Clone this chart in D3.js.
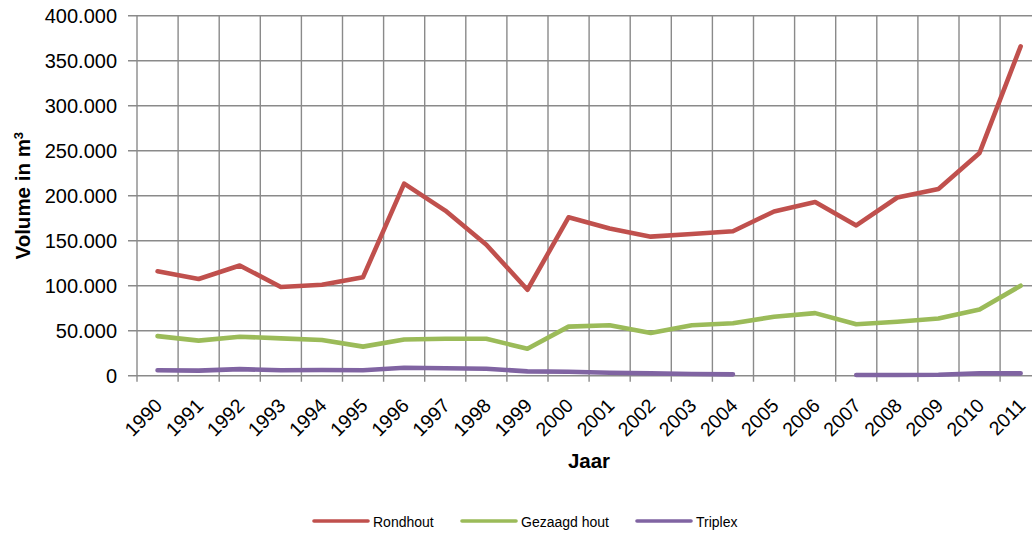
<!DOCTYPE html>
<html>
<head>
<meta charset="utf-8">
<script src="https://cdn.jsdelivr.net/npm/d3@7"></script>
<style>
  html, body { margin: 0; padding: 0; background: #fff; }
  svg { display: block; font-family: "Liberation Sans", Arial, sans-serif; }
</style>
</head>
<body>
<svg id="chart" width="1032" height="535"></svg>
<script>
const years = ["1990","1991","1992","1993","1994","1995","1996","1997","1998","1999","2000",
               "2001","2002","2003","2004","2005","2006","2007","2008","2009","2010","2011"];
const rondhout = [116000,107500,122500,98500,101000,109500,213500,183500,145500,95500,176000,
                  163500,154500,157500,160500,182500,193000,167000,198000,207500,247500,366000];
const gezaagdHout = [44000,39000,43300,41500,39700,32300,40200,41000,41000,30000,54500,
                     56000,47500,56000,58200,65500,69500,57200,60000,63500,73500,100000];
const triplex = [6000,5600,7300,6000,6300,6000,8800,8200,7800,4800,4400,
                 3300,2600,1900,1500,null,null,800,800,1100,2600,2600];
const yTicks = [0,50000,100000,150000,200000,250000,300000,350000,400000];
const seriesNames = ["Rondhout","Gezaagd hout","Triplex"];
const seriesColors = ["#C0504D","#9BBB59","#8064A2"];

(function () {
const svg = d3.select("#chart");
const pLeft = 137, pTop = 15.7, pBottom = 375.7, pRight = 137 + 22 * 41.1;
const grid = "#8a8a8a";

const x = d3.scaleBand().domain(years).range([pLeft, pRight]).paddingInner(0).paddingOuter(0);
const y = d3.scaleLinear().domain([0, 400000]).range([pBottom, pTop]);
const fmt = v => v === 0 ? "0" : d3.format(",")(v).replace(/,/g, ".");

// horizontal gridlines + y ticks
svg.append("g").selectAll("line").data(yTicks).join("line")
  .attr("x1", pLeft - 9).attr("x2", pRight)
  .attr("y1", d => y(d)).attr("y2", d => y(d))
  .attr("stroke", grid).attr("stroke-width", 1.4);

// vertical gridlines at category boundaries
const bounds = years.map(d => x(d)).concat([pRight]);
svg.append("g").selectAll("line").data(bounds).join("line")
  .attr("x1", d => d).attr("x2", d => d)
  .attr("y1", pTop).attr("y2", pBottom + 6)
  .attr("stroke", grid).attr("stroke-width", 1.4);

// y tick labels
svg.append("g").selectAll("text").data(yTicks).join("text")
  .attr("x", 117).attr("y", d => y(d)).attr("dy", "0.36em")
  .attr("text-anchor", "end").attr("font-size", 20).attr("fill", "#000")
  .text(fmt);

// x tick labels
svg.append("g").selectAll("text").data(years).join("text")
  .attr("transform", d => `translate(${x(d) + x.bandwidth() / 2 - 4},${397}) rotate(-45)`)
  .attr("text-anchor", "end").attr("dy", "0.72em")
  .attr("font-size", 19.5).attr("fill", "#000")
  .text(d => d);

// axis titles
svg.append("text").attr("x", 589).attr("y", 468).attr("text-anchor", "middle")
  .attr("font-size", 20.5).attr("font-weight", "bold").text("Jaar");
const yt = svg.append("text").attr("transform", `translate(30,${(pTop + pBottom) / 2}) rotate(-90)`)
  .attr("text-anchor", "middle").attr("font-size", 20.5).attr("font-weight", "bold");
yt.append("tspan").text("Volume in m");
yt.append("tspan").attr("font-size", 13).attr("dy", "-0.55em").text("3");

// lines
const allSeries = [rondhout, gezaagdHout, triplex];
const line = d3.line()
  .defined(d => d != null)
  .x((d, i) => x(years[i]) + x.bandwidth() / 2)
  .y(d => y(d));
allSeries.forEach((s, k) => {
  svg.append("path").datum(s)
    .attr("d", line)
    .attr("fill", "none").attr("stroke", seriesColors[k])
    .attr("stroke-width", 4.6)
    .attr("stroke-linejoin", "round").attr("stroke-linecap", "round");
});

// legend
const legendX = [314, 462, 637];
const lg = svg.append("g");
seriesNames.forEach((n, k) => {
  lg.append("line").attr("x1", legendX[k]).attr("x2", legendX[k] + 54)
    .attr("y1", 521).attr("y2", 521)
    .attr("stroke", seriesColors[k]).attr("stroke-width", 3.6).attr("stroke-linecap", "round");
  lg.append("text").attr("x", legendX[k] + 59).attr("y", 526.5)
    .attr("font-size", 14).attr("fill", "#000").text(n);
});
})();
</script>
</body>
</html>
